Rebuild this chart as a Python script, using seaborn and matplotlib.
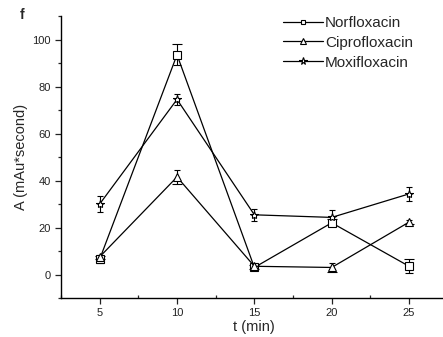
import pandas as pd
import matplotlib.pyplot as plt
import seaborn as sns
from matplotlib.ticker import MultipleLocator

# values
times = [5, 10, 15, 20, 25]
norfloxacin = [6.5, 93.5, 3.0, 22.0, 3.5]
norfloxacin_err = [1.5, 4.5, 1.0, 1.5, 3.0]
ciprofloxacin = [7.5, 41.5, 3.5, 3.0, 22.3]
ciprofloxacin_err = [1.0, 3.0, 1.0, 2.0, 1.0]
moxifloxacin = [30.0, 74.5, 25.4, 24.3, 34.3]
moxifloxacin_err = [3.5, 2.5, 2.5, 3.0, 3.0]

names = ["Norfloxacin", "Ciprofloxacin", "Moxifloxacin"]
values = [norfloxacin, ciprofloxacin, moxifloxacin]
errors = [norfloxacin_err, ciprofloxacin_err, moxifloxacin_err]
markers = {"Norfloxacin": "s", "Ciprofloxacin": "^", "Moxifloxacin": "*"}
msizes = {"Norfloxacin": 5.5, "Ciprofloxacin": 6.5, "Moxifloxacin": 7.5}

rows = []
for n, v, e in zip(names, values, errors):
    for t, y, err in zip(times, v, e):
        rows.append({"t": t, "A": y, "err": err, "drug": n})
df = pd.DataFrame(rows)

sns.set_style("ticks")
plt.rcParams["font.family"] = ["Liberation Sans", "DejaVu Sans"]

fig = plt.figure(figsize=(4.43, 3.37), dpi=100)
ax = fig.add_axes([0.1377, 0.1157, 0.873, 0.8368])

for n in names:
    d = df[df["drug"] == n]
    ax.errorbar(d["t"], d["A"], yerr=d["err"], fmt="none", ecolor="black",
                elinewidth=0.8, capsize=2.5, capthick=0.8, zorder=2)

sns.lineplot(data=df, x="t", y="A", hue="drug", style="drug",
             palette=["black"] * 3, markers=markers, dashes=False,
             linewidth=0.9, markerfacecolor="white", markeredgecolor="black",
             markeredgewidth=0.8, markersize=6, ax=ax, zorder=3)

for line, n in zip(ax.get_lines(), names):
    line.set_markersize(msizes[n])

ax.set_xlim(2.5, 27.5)
ax.set_ylim(-10, 110)
ax.set_xticks(times)
ax.set_yticks([0, 20, 40, 60, 80, 100])
ax.xaxis.set_minor_locator(MultipleLocator(2.5))
ax.yaxis.set_minor_locator(MultipleLocator(10))
ax.tick_params(axis="both", which="major", labelsize=8, length=4, width=0.9,
               colors="#222222")
ax.tick_params(axis="y", which="minor", length=2.5, width=0.9)
ax.tick_params(axis="x", which="minor", direction="in", length=2.5, width=0.9)
sns.despine(ax=ax)
for s in ["left", "bottom"]:
    ax.spines[s].set_linewidth(1.0)
    ax.spines[s].set_color("black")

ax.set_xlabel("t (min)", fontsize=10.5, labelpad=1)
ax.set_ylabel("A (mAu*second)", fontsize=10.5, labelpad=3)

handles, labels = ax.get_legend_handles_labels()
for h, n in zip(handles, names):
    h.set_markersize(msizes[n] - 2)
ax.legend().remove()
fig.legend(handles, labels, loc="upper left",
           bbox_to_anchor=(283 / 443, 1 - 16 / 337), borderaxespad=0,
           borderpad=0, frameon=False, fontsize=11, handlelength=2.6,
           handletextpad=0.15, labelspacing=0.38)

fig.text(0.045, 0.945, "f", fontsize=10, fontweight="bold")

fig.savefig("out.png", dpi=100)
plt.close()
